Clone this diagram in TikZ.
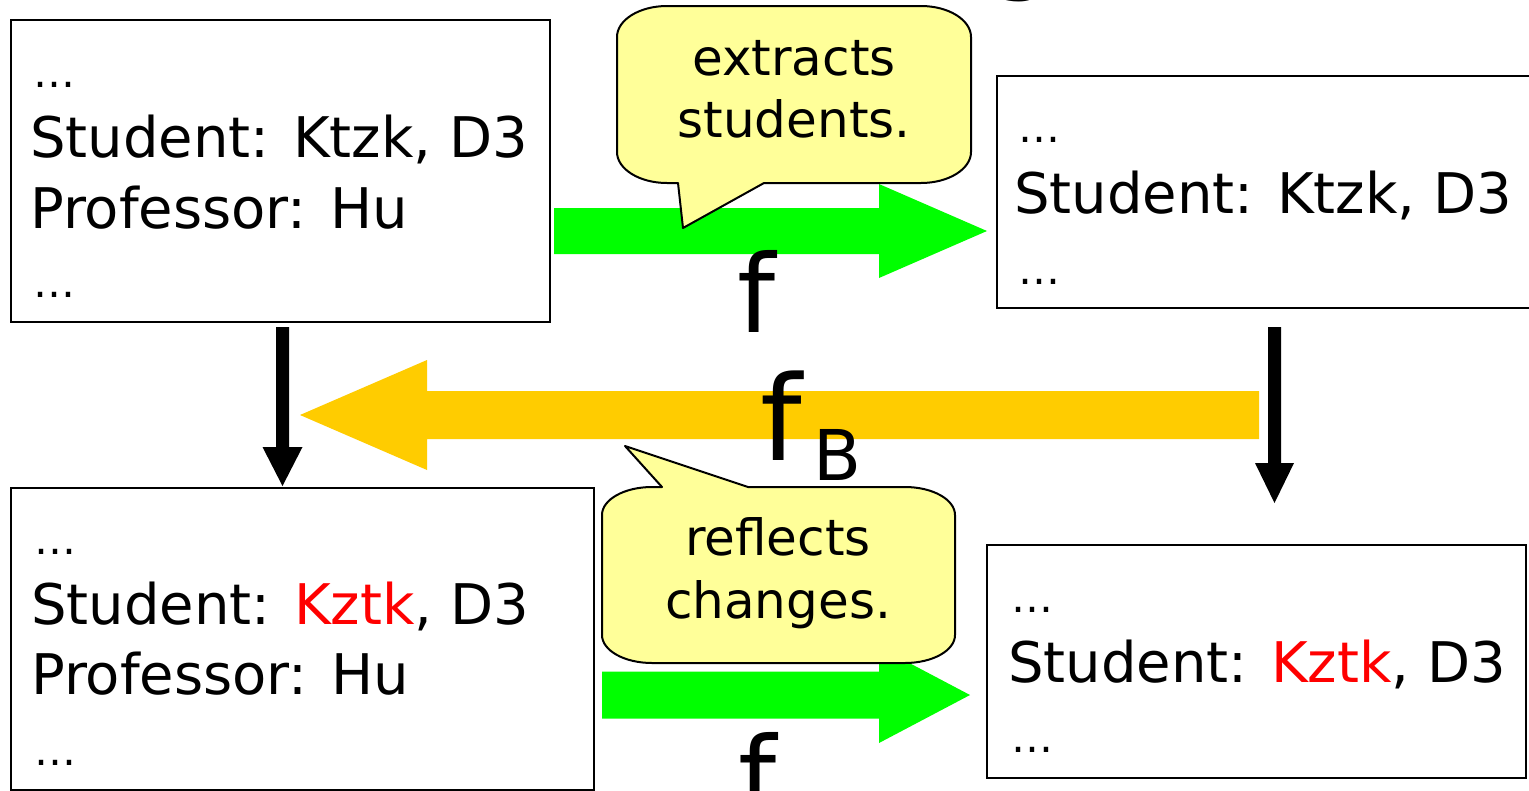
\documentclass[tikz,border=0pt]{standalone}
\usepackage{fontspec}
\setmainfont{DejaVu Sans}
\usetikzlibrary{calc}
\definecolor{arrgreen}{HTML}{00FF00}
\definecolor{arrorange}{HTML}{FFCC00}
\definecolor{callfill}{HTML}{FFFF99}
\definecolor{kred}{HTML}{FF0000}
% horizontal block arrow: start, tip, shaft half, head half, head offset (signed), colour
\newcommand{\hblockarr}[6]{%
  \fill[#6] ($(#1)+(0,-#3)$) -- ($(#2)+(#5,-#3)$) -- ($(#2)+(#5,-#4)$) -- (#2)
    -- ($(#2)+(#5,#4)$) -- ($(#2)+(#5,#3)$) -- ($(#1)+(0,#3)$) -- cycle;}
% vertical block arrow: start, tip, shaft half, head half, head offset (signed), colour
\newcommand{\vblockarr}[6]{%
  \fill[#6] ($(#1)+(-#3,0)$) -- ($(#2)+(-#3,#5)$) -- ($(#2)+(-#4,#5)$) -- (#2)
    -- ($(#2)+(#4,#5)$) -- ($(#2)+(#3,#5)$) -- ($(#1)+(#3,0)$) -- cycle;}
\begin{document}
\begin{tikzpicture}[x=1pt,y=-1pt,
  box/.style={draw=black, line width=2pt, fill=white, inner sep=0pt, anchor=north west},
  boxtext/.style={font=\fontsize{56}{70}\selectfont, anchor=base west, inner sep=0pt},
  dotstext/.style={font=\fontsize{42}{50}\selectfont, anchor=base west, inner sep=0pt},
  calltext/.style={font=\fontsize{50}{63}\selectfont, anchor=base, inner sep=0pt},
  labeltext/.style={font=\fontsize{108}{120}\selectfont, anchor=base, inner sep=0pt},
  callout/.style={draw=black, line width=2pt, fill=callfill, line join=round},
]
\useasboundingbox (0,0) rectangle (1529,790);
\fill[white] (0,0) rectangle (1529,790);
\clip (0,0) rectangle (1529,790);

% boxes
\node[box, minimum width=539pt, minimum height=302pt] (tl) at (10,19) {};
\node[box, minimum width=540pt, minimum height=232pt] (tr) at (996,75) {};
\node[box, minimum width=583pt, minimum height=302pt] (bl) at (10,487) {};
\node[box, minimum width=539pt, minimum height=233pt] (br) at (986,544) {};

% box texts
\node[dotstext] (tl1) at (33,87) {…};
\node[boxtext] (tl2) at (30,157) {Student: Ktzk, D3};
\node[boxtext] (tl3) at (30,228) {Professor: Hu};
\node[dotstext] (tl4) at (33,297) {…};

\node[dotstext] (tr1) at (1018,142) {…};
\node[boxtext] (tr2) at (1014,213) {Student: Ktzk, D3};
\node[dotstext] (tr3) at (1018,284) {…};

\node[dotstext] (bl1) at (34,554) {…};
\node[boxtext] (bl2) at (31,624) {Student: \textcolor{kred}{Kztk}, D3};
\node[boxtext] (bl3) at (31,694) {Professor: Hu};
\node[dotstext] (bl4) at (34,765) {…};

\node[dotstext] (br1) at (1011,612) {…};
\node[boxtext] (br2) at (1008,682) {Student: \textcolor{kred}{Kztk}, D3};
\node[dotstext] (br3) at (1011,752) {…};

% arrows
\coordinate (o1s) at (1259,415);
\coordinate (o1e) at (300,415);
\hblockarr{o1s}{o1e}{24}{55}{127}{arrorange}

\coordinate (g1s) at (554,231);
\coordinate (g1e) at (987,231);
\hblockarr{g1s}{g1e}{23}{47}{-108}{arrgreen}

\coordinate (g2s) at (602,695);
\coordinate (g2e) at (970,695);
\hblockarr{g2s}{g2e}{23.5}{48}{-91}{arrgreen}

\coordinate (k1s) at (282.5,327);
\coordinate (k1e) at (282.5,486);
\vblockarr{k1s}{k1e}{6.5}{20}{-39}{black}

\coordinate (k2s) at (1274.5,327);
\coordinate (k2e) at (1274.5,503);
\vblockarr{k2s}{k2e}{6.5}{19.5}{-40}{black}

% callouts
\draw[callout] (617,37) .. controls (617,19.9) and (639.4,6) .. (667,6) -- (921,6)
  .. controls (948.6,6) and (971,19.9) .. (971,37) -- (971,152)
  .. controls (971,169.1) and (948.6,183) .. (921,183) -- (764,183) -- (683,228)
  -- (678,183) -- (667,183) .. controls (639.4,183) and (617,169.1) .. (617,152) -- cycle;
\node[calltext] (c1a) at (794,75) {extracts};
\node[calltext] (c1b) at (794,137) {students.};

\draw[callout] (602,515) .. controls (602,499.5) and (624.4,487) .. (652,487) -- (662,487)
  -- (625,446) -- (748,487) -- (905,487) .. controls (932.6,487) and (955,499.5) .. (955,515)
  -- (955,635) .. controls (955,650.5) and (932.6,663) .. (905,663) -- (652,663)
  .. controls (624.4,663) and (602,650.5) .. (602,635) -- cycle;
\node[calltext] (c2a) at (778,555) {reflects};
\node[calltext] (c2b) at (778,618) {changes.};

% labels
\node[labeltext] (fa) at (757,332) {f};
\node[labeltext] (fc) at (758,814) {f};
\node[font=\fontsize{118}{130}\selectfont, anchor=base, inner sep=0pt] (fbk) at (781,460) {f};
\node[font=\fontsize{70}{80}\selectfont, anchor=base west, inner sep=0pt] (fbsub) at (813,480) {B};
\node[labeltext] (gfrag) at (1022,-21) {g};
\end{tikzpicture}
\end{document}
